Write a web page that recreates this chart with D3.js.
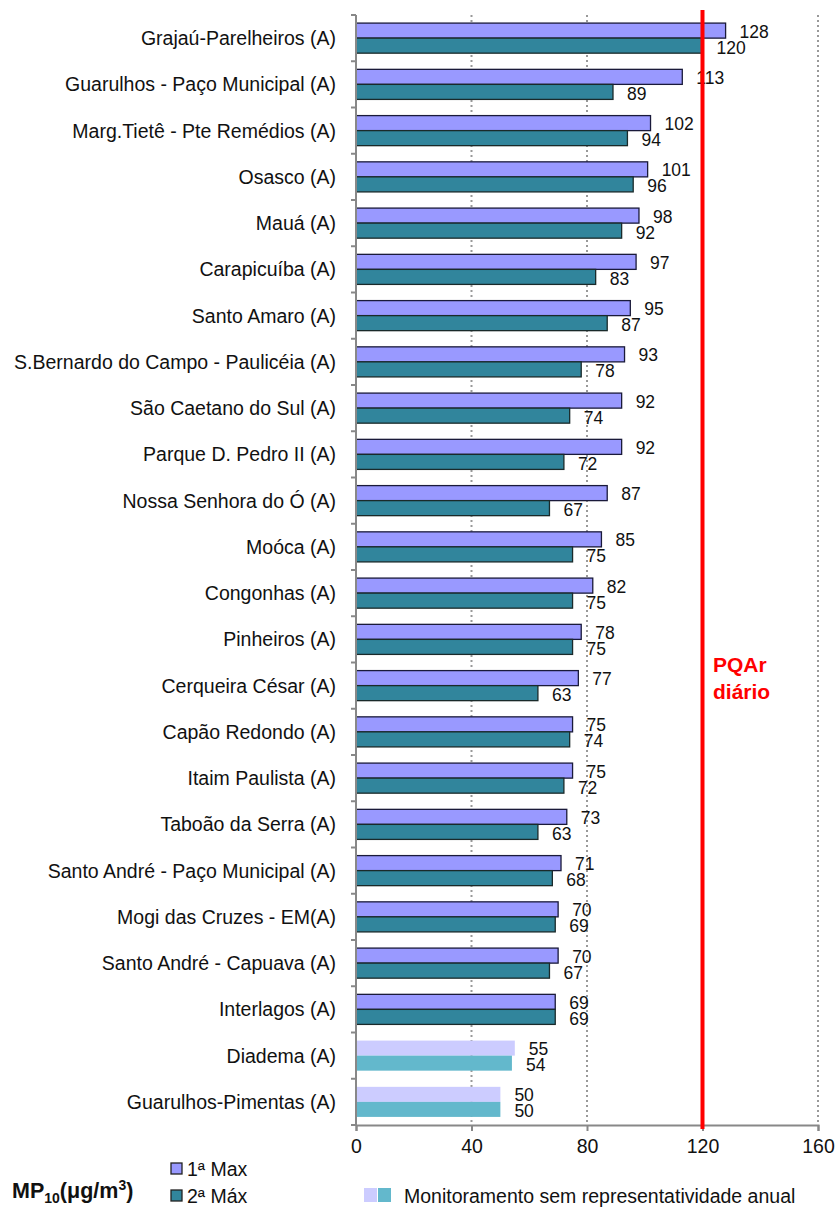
<!DOCTYPE html>
<html><head><meta charset="utf-8">
<script src="https://cdn.jsdelivr.net/npm/d3@7"></script>
<style>
body{margin:0;background:#fff;}
svg{display:block;font-family:"Liberation Sans Narrow","Arial Narrow","Liberation Sans",sans-serif;}
</style></head><body>
<svg id="c" width="835" height="1210"></svg>
<script>
const categories = ["Grajaú-Parelheiros (A)","Guarulhos - Paço Municipal (A)","Marg.Tietê - Pte Remédios (A)","Osasco (A)","Mauá (A)","Carapicuíba (A)","Santo Amaro (A)","S.Bernardo do Campo - Paulicéia (A)","São Caetano do Sul (A)","Parque D. Pedro II (A)","Nossa Senhora do Ó (A)","Moóca (A)","Congonhas (A)","Pinheiros (A)","Cerqueira César (A)","Capão Redondo (A)","Itaim Paulista (A)","Taboão da Serra (A)","Santo André - Paço Municipal (A)","Mogi das Cruzes - EM(A)","Santo André - Capuava (A)","Interlagos (A)","Diadema (A)","Guarulhos-Pimentas (A)"];
const max1 = [128,113,102,101,98,97,95,93,92,92,87,85,82,78,77,75,75,73,71,70,70,69,55,50];
const max2 = [120,89,94,96,92,83,87,78,74,72,67,75,75,75,63,74,72,63,68,69,67,69,54,50];
const representative = [1,1,1,1,1,1,1,1,1,1,1,1,1,1,1,1,1,1,1,1,1,1,0,0];
const xTicks = [0,40,80,120,160];
const standard = 120;
const seriesNames = ["1ª Max","2ª Máx"];
const noteText = "Monitoramento sem representatividade anual";

(function(){
const C1 = "#9999FF", C2 = "#31859C", C1L = "#CCCCFF", C2L = "#63B8CC";
const svg = d3.select("#c");
const L = 356, R = 818, T = 15, B = 1125;

const x = d3.scaleLinear().domain([0,160]).range([L,R]);
const y = d3.scaleBand().domain(categories).range([T,B]).paddingInner(0.35).paddingOuter(0.175);
const yb = d3.scaleBand().domain(categories).range([T,B]);

svg.append("g").selectAll("line").data(xTicks.filter(d=>d>0)).join("line")
  .attr("x1",d=>x(d)).attr("x2",d=>x(d)).attr("y1",T).attr("y2",B)
  .attr("stroke","#999").attr("stroke-width",2).attr("stroke-dasharray","2,3");

const rows = categories.map((c,i)=>({c,a:max1[i],b:max2[i],r:representative[i]}));
const bh = y.bandwidth()/2;
const g = svg.append("g");
g.selectAll("rect.a").data(rows).join("rect")
  .attr("x",x(0)).attr("y",d=>y(d.c)).attr("width",d=>x(d.a)-x(0)).attr("height",bh)
  .attr("fill",d=>d.r?C1:C1L).attr("stroke",d=>d.r?"#1a1a3a":"none").attr("stroke-width",1.3);
g.selectAll("rect.b").data(rows).join("rect")
  .attr("x",x(0)).attr("y",d=>y(d.c)+bh).attr("width",d=>x(d.b)-x(0)).attr("height",bh)
  .attr("fill",d=>d.r?C2:C2L).attr("stroke",d=>d.r?"#1a2a2a":"none").attr("stroke-width",1.3);

g.selectAll("text.a").data(rows).join("text")
  .attr("x",d=>x(d.a)+14).attr("y",d=>y(d.c)+bh/2+1).attr("dominant-baseline","central")
  .attr("font-size",17.5).attr("fill","#111").text(d=>d.a);
g.selectAll("text.b").data(rows).join("text")
  .attr("x",d=>x(d.b)+14).attr("y",d=>y(d.c)+bh*1.5+2).attr("dominant-baseline","central")
  .attr("font-size",17.5).attr("fill","#111").text(d=>d.b);

const yAxis = svg.append("g").attr("transform",`translate(${L},0)`);
yAxis.append("line").attr("x1",0).attr("x2",0).attr("y1",T).attr("y2",B).attr("stroke","#888").attr("stroke-width",2);
yAxis.selectAll("line.t").data(categories.map(c=>yb(c)).concat([B])).join("line")
  .attr("x1",-5).attr("x2",0).attr("y1",d=>d).attr("y2",d=>d).attr("stroke","#888").attr("stroke-width",2);
svg.append("g").selectAll("text").data(categories).join("text")
  .attr("x",336).attr("y",d=>yb(d)+yb.bandwidth()/2).attr("dominant-baseline","central")
  .attr("text-anchor","end").attr("font-size",19.5).attr("fill","#111").text(d=>d);

const xAxis = svg.append("g").attr("transform",`translate(0,${B})`)
  .call(d3.axisBottom(x).tickValues(xTicks).tickSize(6).tickPadding(8));
xAxis.select(".domain").attr("stroke","#888").attr("stroke-width",2);
xAxis.selectAll(".tick line").attr("stroke","#888").attr("stroke-width",2);
xAxis.selectAll(".tick text").attr("font-size",19.5).attr("fill","#111").attr("font-family","inherit");

svg.append("line").attr("x1",x(standard)).attr("x2",x(standard)).attr("y1",10).attr("y2",B+4)
  .attr("stroke","#FF0000").attr("stroke-width",4);
svg.append("text").attr("x",713).attr("y",672).attr("fill","#FF0000").attr("font-size",21).attr("font-weight","bold").text("PQAr");
svg.append("text").attr("x",713).attr("y",699).attr("fill","#FF0000").attr("font-size",21).attr("font-weight","bold").text("diário");

const t = svg.append("text").attr("x",12).attr("y",1198).attr("font-size",21.5).attr("font-weight","bold").attr("fill","#111");
t.append("tspan").text("MP");
t.append("tspan").attr("font-size",14).attr("dy",5).text("10");
t.append("tspan").attr("dy",-5).text("(μg/m");
t.append("tspan").attr("font-size",14).attr("dy",-8).text("3");
t.append("tspan").attr("dy",8).text(")");

const lg = svg.append("g");
[[C1,1169],[C2,1196]].forEach((d,i)=>{
  lg.append("rect").attr("x",171).attr("y",d[1]-6).attr("width",11).attr("height",11).attr("fill",d[0]).attr("stroke","#222").attr("stroke-width",1.3);
  lg.append("text").attr("x",187).attr("y",d[1]).attr("dominant-baseline","central").attr("font-size",19.5).attr("fill","#111").text(seriesNames[i]);
});
lg.append("rect").attr("x",364).attr("y",1188).attr("width",13).attr("height",14).attr("fill",C1L);
lg.append("rect").attr("x",378).attr("y",1188).attr("width",13).attr("height",14).attr("fill",C2L);
lg.append("text").attr("x",404).attr("y",1196).attr("dominant-baseline","central").attr("font-size",19.5).attr("fill","#111").text(noteText);
})();
</script></body></html>
